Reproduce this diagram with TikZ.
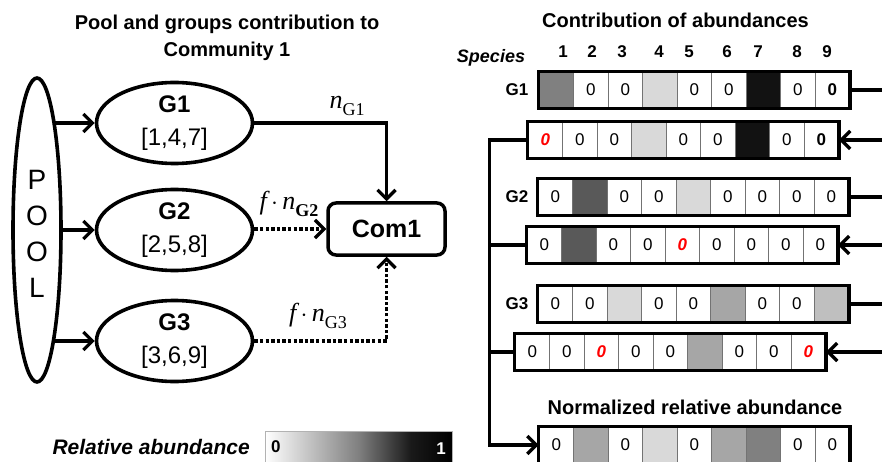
\documentclass[tikz,border=0pt]{standalone}
\usepackage{fontspec}
\setmainfont{Liberation Sans}
\newfontfamily\labfont{Liberation Serif}
\usetikzlibrary{shapes.geometric,arrows.meta,backgrounds}

\definecolor{cMid}{HTML}{808080}
\definecolor{cLight}{HTML}{D9D9D9}
\definecolor{cDark}{HTML}{595959}
\definecolor{cBlack}{HTML}{121212}
\definecolor{cGray}{HTML}{A6A6A6}
\definecolor{cSoft}{HTML}{BFBFBF}

\pgfdeclarehorizontalshading{relabund}{100bp}{color(0bp)=(white); color(25bp)=(white); color(50bp)=(black!50); color(64bp)=(black!90); color(75bp)=(black); color(100bp)=(black)}

\newcommand\redz{\textcolor{red}{\bfseries\itshape 0}}
\newcommand\nsub[1]{{\itshape n}\raisebox{-0.28em}{\fontsize{18}{18}\selectfont #1}}

% one strip of nine abundance cells: name, left x, top y, fill/text list
\newcommand\cellrow[4]{%
  \foreach[count=\ci] \cellfill/\celltext in {#4}{%
    \node[cellbox,fill=\cellfill] (#1-\ci) at ({#2+(\ci-0.5)*34.5},{#3+18}) {\celltext};
  }%
  \draw[rowframe] (#1-1.north west) rectangle (#1-9.south east);
}

\begin{document}
\begin{tikzpicture}[x=1pt,y=-1pt,
  hd/.style={inner sep=0, align=center, font=\fontsize{20}{27}\selectfont\bfseries},
  grp/.style={ellipse, draw, line width=3.6pt, fill=white, minimum width=156pt, minimum height=81pt, inner sep=0},
  grptext/.style={inner sep=0, align=center, font=\fontsize{24}{33}\selectfont},
  combox/.style={rectangle, draw, rounded corners=8pt, line width=3.5pt, fill=white,
    minimum width=117pt, minimum height=52pt, font=\fontsize{25}{25}\selectfont\bfseries},
  conn/.style={line width=3.3pt},
  arr/.style={conn, -{Straight Barb[length=9pt,width=18pt]}},
  dots/.style={line width=3.8pt, dash pattern=on 3.4pt off 2.2pt},
  darr/.style={dots, -{Straight Barb[length=9pt,width=18pt,line width=3.3pt]}},
  cellbox/.style={rectangle, draw=black!55, line width=0.8pt, minimum width=34.5pt,
    minimum height=36pt, inner sep=0, font=\fontsize{17}{17}\selectfont},
  rowframe/.style={draw=black, line width=3.3pt},
  lbl/.style={inner sep=0, font=\fontsize{17}{17}\selectfont\bfseries},
  mlab/.style={inner sep=0, font=\fontsize{26}{26}\selectfont\labfont}
]
\useasboundingbox (0,0) rectangle (882,462);

% ---------- left panel ----------
\node[hd] (ttl) at (227,38) {Pool and groups contribution to\\Community 1};

\node[ellipse, draw, line width=3.6pt, fill=white, minimum width=48pt, minimum height=304pt, inner sep=0] (pool) at (37,230) {};
\node[inner sep=0, align=center, font=\fontsize{28}{36}\selectfont] (poolt) at (37,234) {P\\O\\O\\L};

\node[grp] (g1) at (174.5,123) {};
\node[grptext] (g1t) at (g1) {\textbf{G1}\\{[1,4,7]}};
\node[grp] (g2) at (174.5,230) {};
\node[grptext] (g2t) at (g2) {\textbf{G2}\\{[2,5,8]}};
\node[grp] (g3) at (174.5,341) {};
\node[grptext] (g3t) at (g3) {\textbf{G3}\\{[3,6,9]}};

\node[combox] (com) at (386.5,229) {Com1};

\draw[arr] (g1.east) -| (com.north);
\draw[darr] (g2.east |- com.west) -- (com.west);
\draw[darr] (g3.east) -| (com.south);

\node[mlab] (l1) at (347,106) {\nsub{G1}};
\node[mlab] (l2) at (289,204) {{\itshape f}\,$\cdot$\,\nsub{\bfseries G2}};
\node[mlab] (l3) at (318,316) {{\itshape f}\,$\cdot$\,\nsub{G3}};

% colour scale
\node[inner sep=0, anchor=east, font=\fontsize{21}{21}\selectfont\bfseries\itshape] (rat) at (250,447) {Relative abundance};
\path[shading=relabund, draw=black!30, line width=1pt] (265,431) rectangle (452,470);
\node[inner sep=0, anchor=west, font=\fontsize{17}{17}\selectfont\bfseries] (s0) at (271,447) {0};
\node[inner sep=0, anchor=east, font=\fontsize{17}{17}\selectfont\bfseries, text=white] (s1) at (446,449) {1};

% ---------- right panel ----------
\node[hd] (ttr) at (675.5,20) {Contribution of abundances};
\node[inner sep=0, font=\fontsize{18}{18}\selectfont\bfseries\itshape] (spc) at (491,58) {Species};
\foreach \sx [count=\si] in {563,592,622,659,689,727,758,797,827}
  \node[lbl] (sp\si) at (\sx,52) {\si};

\node[lbl] (lg1) at (517,90) {G1};
\node[lbl] (lg2) at (517,197) {G2};
\node[lbl] (lg3) at (517,304) {G3};

\cellrow{ra}{539}{72}{cMid/, white/0, white/0, cLight/, white/0, white/0, cBlack/, white/0, white/\textbf{0}}
\cellrow{rb}{528}{122}{white/\redz, white/0, white/0, cLight/, white/0, white/0, cBlack/, white/0, white/\textbf{0}}
\cellrow{rc}{538}{179}{white/0, cDark/, white/0, white/0, cLight/, white/0, white/0, white/0, white/0}
\cellrow{rd}{527}{227}{white/0, cDark/, white/0, white/0, white/\redz, white/0, white/0, white/0, white/0}
\cellrow{re}{538}{286}{white/0, white/0, cLight/, white/0, white/0, cGray/, white/0, white/0, cSoft/}
\cellrow{rf}{515}{334}{white/0, white/0, white/\redz, white/0, white/0, cGray/, white/0, white/0, white/\redz}

\node[inner sep=0, font=\fontsize{20}{20}\selectfont\bfseries] (ttn) at (695,407) {Normalized relative abundance};
\cellrow{rn}{539}{427}{white/0, cGray/, white/0, cLight/, white/0, cGray/, cMid/, white/0, white/0}

% links leaving and entering on the right edge
\coordinate (xr) at (895,0);
\draw[conn] (ra-9.east) -- (ra-9.east -| xr);
\draw[arr] (rb-9.east -| xr) -- (rb-9.east);
\draw[conn] (rc-9.east) -- (rc-9.east -| xr);
\draw[arr] (rd-9.east -| xr) -- (rd-9.east);
\draw[conn] (re-9.east) -- (re-9.east -| xr);
\draw[arr] (rf-9.east -| xr) -- (rf-9.east);

% collecting line on the left
\coordinate (xl) at (489.5,0);
\draw[arr, line join=miter] (rb-1.west) -| (xl |- rn-1.west) -- (rn-1.west);
\draw[conn] (rd-1.west) -- (rd-1.west -| xl);
\draw[conn] (rf-1.west) -- (rf-1.west -| xl);

% pool feeds, drawn underneath the pool ellipse
\begin{scope}[on background layer]
  \fill[white] (0,0) rectangle (882,462);
  \draw[arr] (pool.center |- g1.west) -- (g1.west);
  \draw[arr] (pool.center |- g2.west) -- (g2.west);
  \draw[arr] (pool.center |- g3.west) -- (g3.west);
\end{scope}
\end{tikzpicture}
\end{document}
